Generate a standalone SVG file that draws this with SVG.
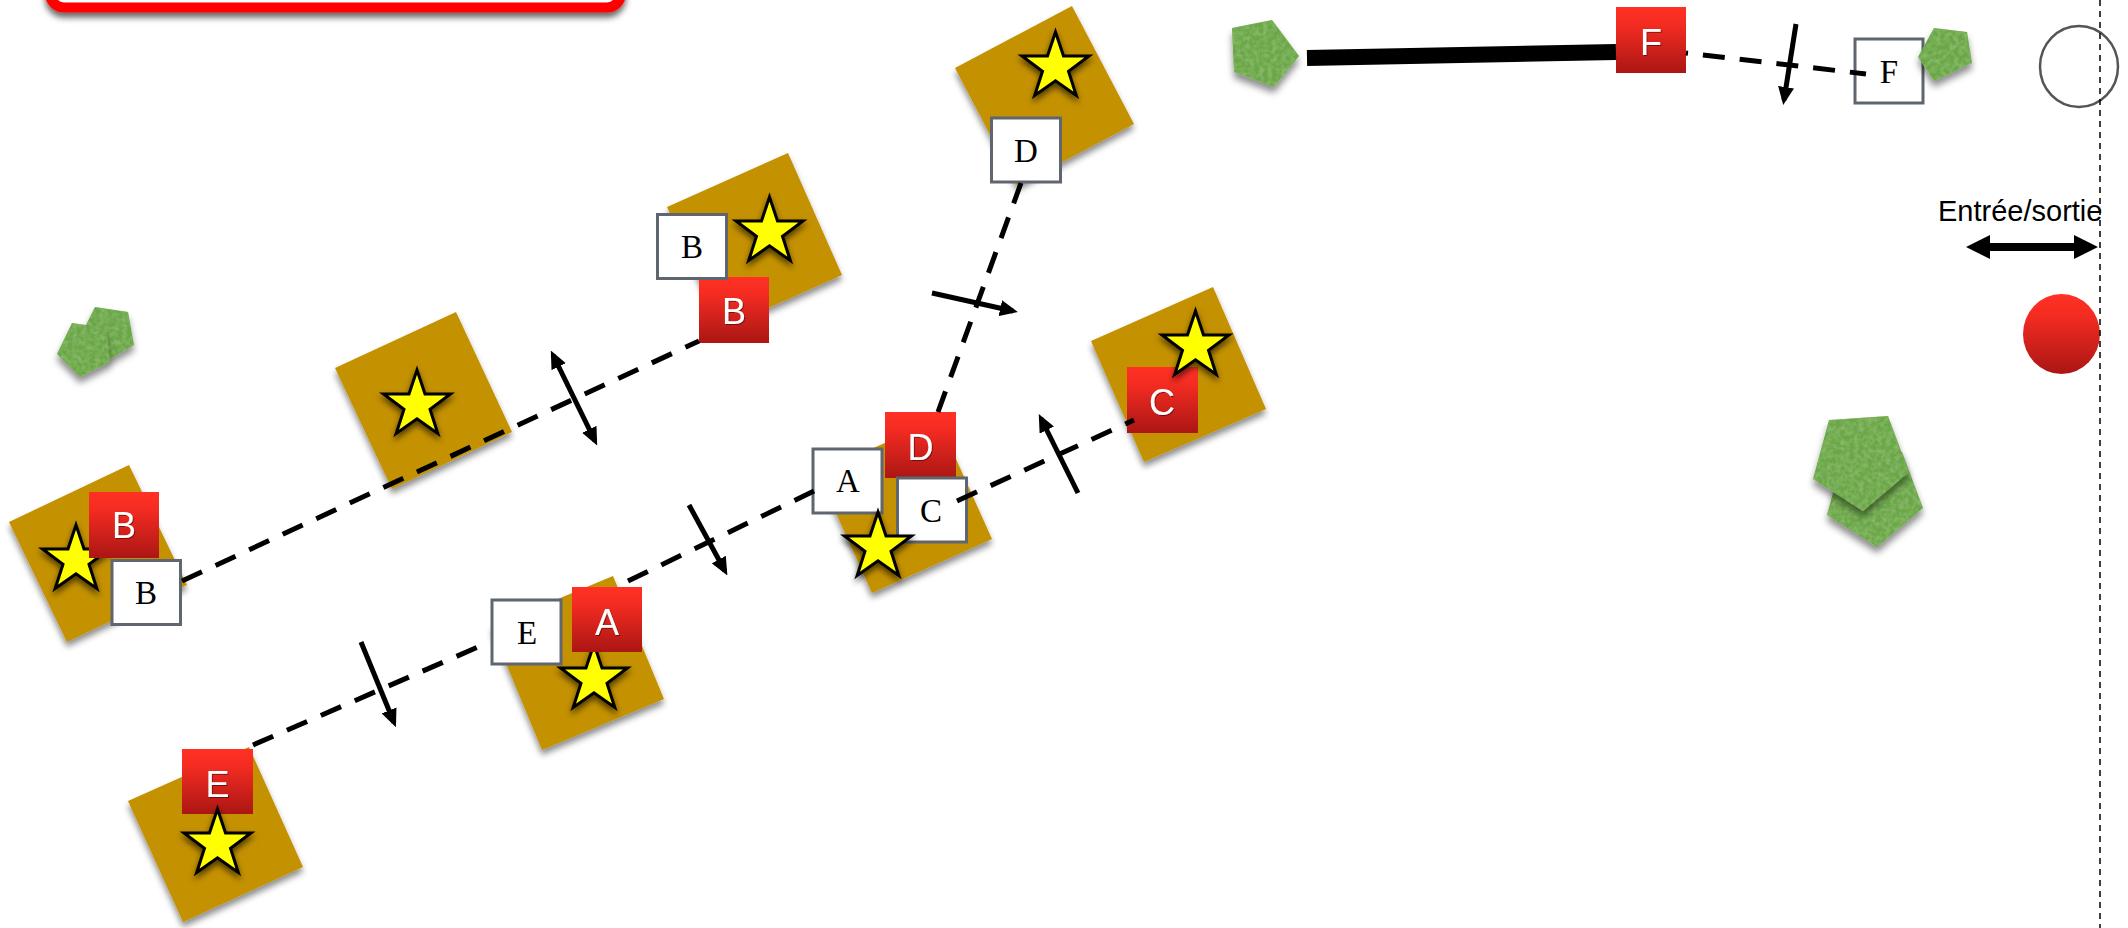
<svg xmlns="http://www.w3.org/2000/svg" xmlns:xlink="http://www.w3.org/1999/xlink" width="2128" height="928" viewBox="0 0 2128 928">
<style>
.sq{fill:#c49100;filter:url(#sh)}
.star{fill:#ffff00;stroke:#000;stroke-width:3;stroke-miterlimit:10;filter:url(#sh2)}
.rb{fill:url(#red)}
.wb{fill:#fff;stroke:#5f6670;stroke-width:3}
.rt{font-family:"Liberation Sans",sans-serif;font-size:36px;fill:#fff;text-anchor:middle;filter:url(#ts)}
.wt{font-family:"Liberation Serif",serif;font-size:33px;fill:#000;text-anchor:middle}
.gr{fill:#69a746;filter:url(#grass)}
.dash{fill:none;stroke:#000;stroke-width:5;stroke-dasharray:22 15}
.arr{fill:none;stroke:#000;stroke-width:5;marker-end:url(#ah)}
.arr2{fill:none;stroke:#000;stroke-width:5;marker-start:url(#ah);marker-end:url(#ah)}
</style>
<defs>
<linearGradient id="red" x1="0" y1="0" x2="0" y2="1"><stop offset="0" stop-color="#ff3124"/><stop offset="0.25" stop-color="#f52c22"/><stop offset="1" stop-color="#ab1614"/></linearGradient>
<filter id="sh" x="-20%" y="-20%" width="140%" height="140%"><feDropShadow dx="0" dy="5" stdDeviation="3" flood-color="#000" flood-opacity="0.45"/></filter>
<filter id="sh2" x="-30%" y="-30%" width="160%" height="160%"><feDropShadow dx="0" dy="4" stdDeviation="3" flood-color="#000" flood-opacity="0.6"/></filter>
<filter id="ts" x="-30%" y="-30%" width="160%" height="160%"><feDropShadow dx="1" dy="1" stdDeviation="0.6" flood-color="#000" flood-opacity="0.45"/></filter>
<filter id="box" x="-5%" y="-20%" width="110%" height="150%"><feDropShadow dx="0" dy="5" stdDeviation="3" flood-color="#000" flood-opacity="0.6"/></filter>
<filter id="grass" x="-20%" y="-20%" width="140%" height="150%">
<feTurbulence type="fractalNoise" baseFrequency="0.22" numOctaves="2" seed="4" result="n"/>
<feColorMatrix in="n" type="matrix" values="0 0 0 0 0.25  0 0 0 0 0.48  0 0 0 0 0.14  0 0 0 2.2 -0.75" result="nc"/>
<feComposite in="nc" in2="SourceAlpha" operator="in" result="tex"/>
<feDropShadow in="SourceGraphic" dx="0" dy="6" stdDeviation="3.5" flood-color="#000" flood-opacity="0.45" result="base"/>
<feMerge><feMergeNode in="base"/><feMergeNode in="tex"/></feMerge>
</filter>
<marker id="ah" markerUnits="userSpaceOnUse" markerWidth="18" markerHeight="16" viewBox="0 0 18 16" refX="13" refY="8" orient="auto-start-reverse"><path d="M0 0L18 8L0 16z" fill="#000"/></marker>
<marker id="ahb" markerUnits="userSpaceOnUse" markerWidth="24" markerHeight="24" viewBox="0 0 24 24" refX="2" refY="12" orient="auto-start-reverse"><path d="M0 0L24 12L0 24z" fill="#000"/></marker>
<path id="st" d="M0-35L8-11L33.500-11L13 4.300L20.800 28.500L0 13.800L-20.800 28.500L-13 4.300L-33.500-11L-8-11z"/>
</defs>

<g id="banner"><rect x="50" y="-100" width="571" height="107.5" rx="14" fill="#fff" stroke="#f00" stroke-width="10" filter="url(#box)"/></g>

<g id="site-b-left">
<polygon class="sq" points="129,465 9,522 67,642 187,585"/>
<use href="#st" class="star" x="76" y="560"/>
<rect class="rb" x="89" y="492" width="70" height="66"/><text class="rt" x="124" y="538">B</text>
<rect class="wb" x="112" y="560.500" width="68.500" height="64"/><text class="wt" x="146" y="604">B</text>
</g>

<g id="site-star">
<polygon class="sq" points="456,312 335,368 392,489 512,432"/>
<use href="#st" class="star" x="417" y="405"/>
</g>

<g id="site-b-top">
<polygon class="sq" points="788,153 667,207 721,329 842,275"/>
<use href="#st" class="star" x="769.500" y="232"/>
<rect class="rb" x="699" y="277" width="70" height="66"/><text class="rt" x="734" y="324">B</text>
<rect class="wb" x="657.500" y="214.500" width="69" height="64"/><text class="wt" x="692" y="258">B</text>
</g>

<g id="site-d">
<polygon class="sq" points="1072,6 955,68 1017,186 1134,124"/>
<use href="#st" class="star" x="1055.500" y="67"/>
<rect class="wb" x="991.500" y="118" width="69" height="64"/><text class="wt" x="1026" y="162">D</text>
</g>

<g id="site-c">
<polygon class="sq" points="1213,287 1091,341 1144,462 1266,409"/>
<rect class="rb" x="1127" y="367" width="71" height="66"/><text class="rt" x="1162" y="415">C</text>
<use href="#st" class="star" x="1195.500" y="346"/>
</g>

<g id="site-center">
<polygon class="sq" points="938,419 818,473 872,593 992,539"/>
<rect class="rb" x="885" y="412" width="71" height="66"/><text class="rt" x="920.500" y="460">D</text>
<rect class="wb" x="813" y="449" width="69" height="64"/><text class="wt" x="848" y="492">A</text>
<rect class="wb" x="897.500" y="478" width="69" height="64"/><text class="wt" x="931" y="522">C</text>
<use href="#st" class="star" x="878" y="547"/>
</g>

<g id="site-a">
<polygon class="sq" points="613,576 491,627 542,750 664,699"/>
<use href="#st" class="star" x="594" y="679"/>
<rect class="rb" x="572" y="587" width="70" height="65"/><text class="rt" x="607" y="635">A</text>
<rect class="wb" x="492" y="600" width="69" height="64"/><text class="wt" x="527" y="644">E</text>
</g>

<g id="site-e">
<polygon class="sq" points="249,747 128,801 183,922 303,867"/>
<rect class="rb" x="182" y="749" width="71" height="65"/><text class="rt" x="217.500" y="797">E</text>
<use href="#st" class="star" x="217.500" y="844"/>
</g>

<g id="f-red"><rect class="rb" x="1616" y="7" width="70" height="66"/><text class="rt" x="1651" y="55">F</text></g>
<g id="f-white"><rect class="wb" x="1855" y="39" width="68" height="64"/><text class="wt" x="1889" y="83">F</text></g>

<g id="vegetation">
<polygon class="gr" points="95,307 128,312 134,345 108,360 86,325"/>
<polygon class="gr" points="72,323 106,328 110,362 80,377 57,354"/>
<polygon class="gr" points="1232,28 1272,20 1299,56 1274,87 1234,72"/>
<polygon class="gr" points="1934,28 1967,32 1972,63 1934,81 1918,57"/>
<polygon class="gr" points="1843,456 1902,452 1923,508 1877,547 1827,515"/>
<polygon class="gr" points="1829,420 1888,416 1909,472 1863,511 1813,479"/>
</g>

<g id="entry-open"><ellipse cx="2079" cy="66.500" rx="39" ry="40.500" fill="#fff" stroke="#555" stroke-width="2.500"/></g>
<g id="entry-red"><ellipse cx="2061.500" cy="334" rx="38.500" ry="40" fill="url(#red)"/></g>
<g id="boundary"><line x1="2100" y1="0" x2="2100" y2="928" stroke="#000" stroke-width="1.500" stroke-dasharray="6 5"/></g>
<text x="1938" y="221" font-family="'Liberation Sans',Arial,sans-serif" font-size="29" fill="#000">Entrée/sortie</text>

<g id="connectors">
<path class="dash" d="M182 581L699 341"/>
<path class="dash" d="M253 745L478 647"/>
<path class="dash" d="M628 581L814 491"/>
<path class="dash" d="M957 501L1134 420"/>
<path class="dash" d="M938 412L1021 183"/>
<path class="dash" stroke-dashoffset="20" d="M1686 53L1866 74"/>
<path d="M1307 58L1616 52" fill="none" stroke="#000" stroke-width="16"/>
<path class="arr2" d="M553 355L595 441"/>
<path class="arr" d="M932 293L1013 311"/>
<path class="arr" d="M689 505L725 571"/>
<path class="arr" d="M1078 493L1041 418.500"/>
<path class="arr" d="M361 642L394 722.500"/>
<path class="arr" d="M1796 24L1784 100"/>
<path d="M1988 247L2076 247" fill="none" stroke="#000" stroke-width="8" marker-start="url(#ahb)" marker-end="url(#ahb)"/>
</g>
</svg>
